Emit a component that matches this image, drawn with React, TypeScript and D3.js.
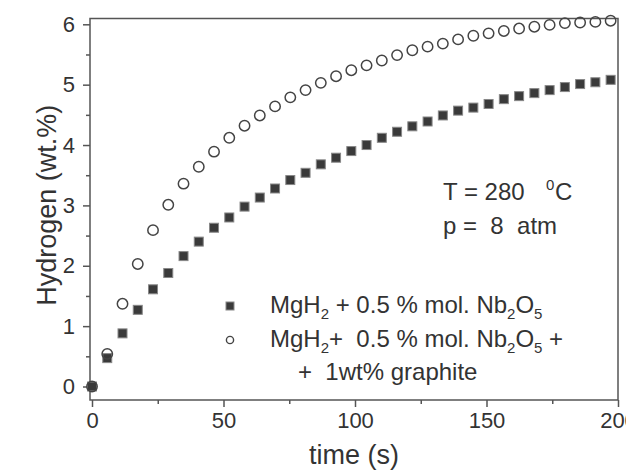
import React, { useEffect, useRef } from "react";
import * as d3 from "d3";

// sampling times (s)
const times = [
  0, 5.8, 11.6, 17.4, 23.2, 29, 34.8, 40.6, 46.4, 52.2, 58, 63.8, 69.6, 75.4,
  81.2, 87, 92.8, 98.6, 104.4, 110.2, 116, 121.8, 127.6, 133.4, 139.2, 145,
  150.8, 156.6, 162.4, 168.2, 174, 179.8, 185.6, 191.4, 197.2,
];

// MgH2 + 0.5 % mol. Nb2O5
const nb2o5 = [
  0, 0.47, 0.88, 1.27, 1.61, 1.88, 2.16, 2.4, 2.63, 2.8, 2.98, 3.13, 3.28,
  3.42, 3.54, 3.68, 3.79, 3.9, 4.0, 4.12, 4.22, 4.31, 4.39, 4.49, 4.57, 4.62,
  4.68, 4.76, 4.81, 4.86, 4.91, 4.96, 5.01, 5.04, 5.08,
];

// MgH2 + 0.5 % mol. Nb2O5 + 1wt% graphite
const nb2o5Graphite = [
  0, 0.54, 1.37, 2.03, 2.59, 3.01, 3.36, 3.64, 3.89, 4.12, 4.32, 4.49, 4.64,
  4.79, 4.91, 5.03, 5.14, 5.24, 5.32, 5.4, 5.49, 5.57, 5.63, 5.68, 5.75, 5.81,
  5.85, 5.89, 5.93, 5.96, 5.99, 6.02, 6.03, 6.04, 6.06,
];

const xMajor = [0, 50, 100, 150, 200];
const xMinor = [25, 75, 125, 175];
const yMajor = [0, 1, 2, 3, 4, 5, 6];
const yMinor = [0.5, 1.5, 2.5, 3.5, 4.5, 5.5];

const FONT = "'Liberation Sans', Arial, sans-serif";
const INK = "#333";

const App = () => {
  const svgRef = useRef<SVGSVGElement>(null);

  useEffect(() => {
    const svg = d3.select(svgRef.current);
    svg.selectAll("*").remove();

    const x = d3.scaleLinear().domain([0, 200]).range([92, 618]);
    const y = d3.scaleLinear().domain([0, 6]).range([386.5, 24.3]);
    const left = 90;
    const top = 18.5;
    const bottom = 400;
    const right = 618;

    // frame
    svg
      .append("rect")
      .attr("x", left)
      .attr("y", top)
      .attr("width", right - left)
      .attr("height", bottom - top)
      .attr("fill", "none")
      .attr("stroke", "#555")
      .attr("stroke-width", 1.5);

    const styleAxis = (g) => {
      g.select(".domain").remove();
      g.selectAll("line").attr("stroke", "#555").attr("stroke-width", 1.5);
      g.selectAll("text")
        .attr("fill", INK)
        .style("font-family", FONT)
        .style("font-size", "22px");
    };

    // y axis
    svg
      .append("g")
      .attr("transform", `translate(${left},0)`)
      .call(d3.axisLeft(y).tickValues(yMajor).tickSize(7).tickPadding(8).tickFormat(d3.format("d")))
      .call(styleAxis);
    svg
      .append("g")
      .attr("transform", `translate(${left},0)`)
      .call(d3.axisLeft(y).tickValues(yMinor).tickSize(4).tickFormat(() => ""))
      .call(styleAxis);

    // x axis
    svg
      .append("g")
      .attr("transform", `translate(0,${bottom})`)
      .call(d3.axisBottom(x).tickValues(xMajor).tickSize(7).tickPadding(5).tickFormat(d3.format("d")))
      .call(styleAxis);
    svg
      .append("g")
      .attr("transform", `translate(0,${bottom})`)
      .call(d3.axisBottom(x).tickValues(xMinor).tickSize(4).tickFormat(() => ""))
      .call(styleAxis);

    // axis titles
    svg
      .append("text")
      .attr("x", (left + right) / 2)
      .attr("y", 464)
      .attr("text-anchor", "middle")
      .attr("fill", INK)
      .style("font-family", FONT)
      .style("font-size", "27px")
      .text("time (s)");
    svg
      .append("text")
      .attr("transform", `translate(56,${(top + bottom) / 2 - 4}) rotate(-90)`)
      .attr("text-anchor", "middle")
      .attr("fill", INK)
      .style("font-family", FONT)
      .style("font-size", "27px")
      .text("Hydrogen (wt.%)");

    // data: squares
    const sq = 9;
    svg
      .append("g")
      .selectAll("rect")
      .data(times.map((t, i) => [t, nb2o5[i]]))
      .enter()
      .append("rect")
      .attr("x", (d) => x(d[0]) - sq / 2)
      .attr("y", (d) => y(d[1]) - sq / 2)
      .attr("width", sq)
      .attr("height", sq)
      .attr("fill", "#3a3a3a")
      .attr("stroke", "#888")
      .attr("stroke-width", 1);

    // data: open circles
    svg
      .append("g")
      .selectAll("circle")
      .data(times.map((t, i) => [t, nb2o5Graphite[i]]))
      .enter()
      .append("circle")
      .attr("cx", (d) => x(d[0]))
      .attr("cy", (d) => y(d[1]))
      .attr("r", 5.2)
      .attr("fill", "none")
      .attr("stroke", "#444")
      .attr("stroke-width", 1.5);

    // annotation
    const note = svg
      .append("g")
      .attr("fill", INK)
      .style("font-family", FONT)
      .style("font-size", "24px");
    const t1 = note.append("text").attr("x", 443).attr("y", 200);
    t1.append("tspan").text("T = 280");
    t1.append("tspan").attr("x", 546).attr("dy", -10).style("font-size", "15px").text("0");
    t1.append("tspan").attr("x", 555).attr("dy", 10).text("C");
    note
      .append("text")
      .attr("x", 443)
      .attr("y", 234)
      .style("white-space", "pre")
      .text("p =  8  atm");

    // legend
    const lg = svg
      .append("g")
      .attr("fill", INK)
      .style("font-family", FONT)
      .style("font-size", "24px");
    lg.append("rect")
      .attr("x", 226)
      .attr("y", 302)
      .attr("width", 8)
      .attr("height", 8)
      .attr("fill", "#3a3a3a")
      .attr("stroke", "#888");
    lg.append("circle")
      .attr("cx", 230)
      .attr("cy", 340)
      .attr("r", 3.6)
      .attr("fill", "none")
      .attr("stroke", "#444")
      .attr("stroke-width", 1.4);

    const sub = (sel, s) => {
      sel.append("tspan").attr("dy", 6).style("font-size", "15px").text(s);
      return sel;
    };
    const norm = (sel, s) => {
      sel.append("tspan").attr("dy", -6).style("white-space", "pre").text(s);
      return sel;
    };

    const l1 = lg.append("text").attr("x", 270).attr("y", 313).style("white-space", "pre");
    l1.append("tspan").text("MgH");
    sub(l1, "2");
    norm(l1, " + 0.5 % mol. Nb");
    sub(l1, "2");
    norm(l1, "O");
    sub(l1, "5");

    const l2 = lg.append("text").attr("x", 270).attr("y", 347).style("white-space", "pre");
    l2.append("tspan").text("MgH");
    sub(l2, "2");
    norm(l2, "+  0.5 % mol. Nb");
    sub(l2, "2");
    norm(l2, "O");
    sub(l2, "5");
    norm(l2, " +");

    lg.append("text")
      .attr("x", 298)
      .attr("y", 380)
      .style("white-space", "pre")
      .text("+  1wt% graphite");
  }, []);

  return (
    <div style={{ position: "absolute", left: 0, top: 0, width: 626, height: 470, overflow: "hidden", background: "#fff" }}>
      <svg ref={svgRef} width={626} height={470} style={{ display: "block" }}></svg>
    </div>
  );
};

export default App;
